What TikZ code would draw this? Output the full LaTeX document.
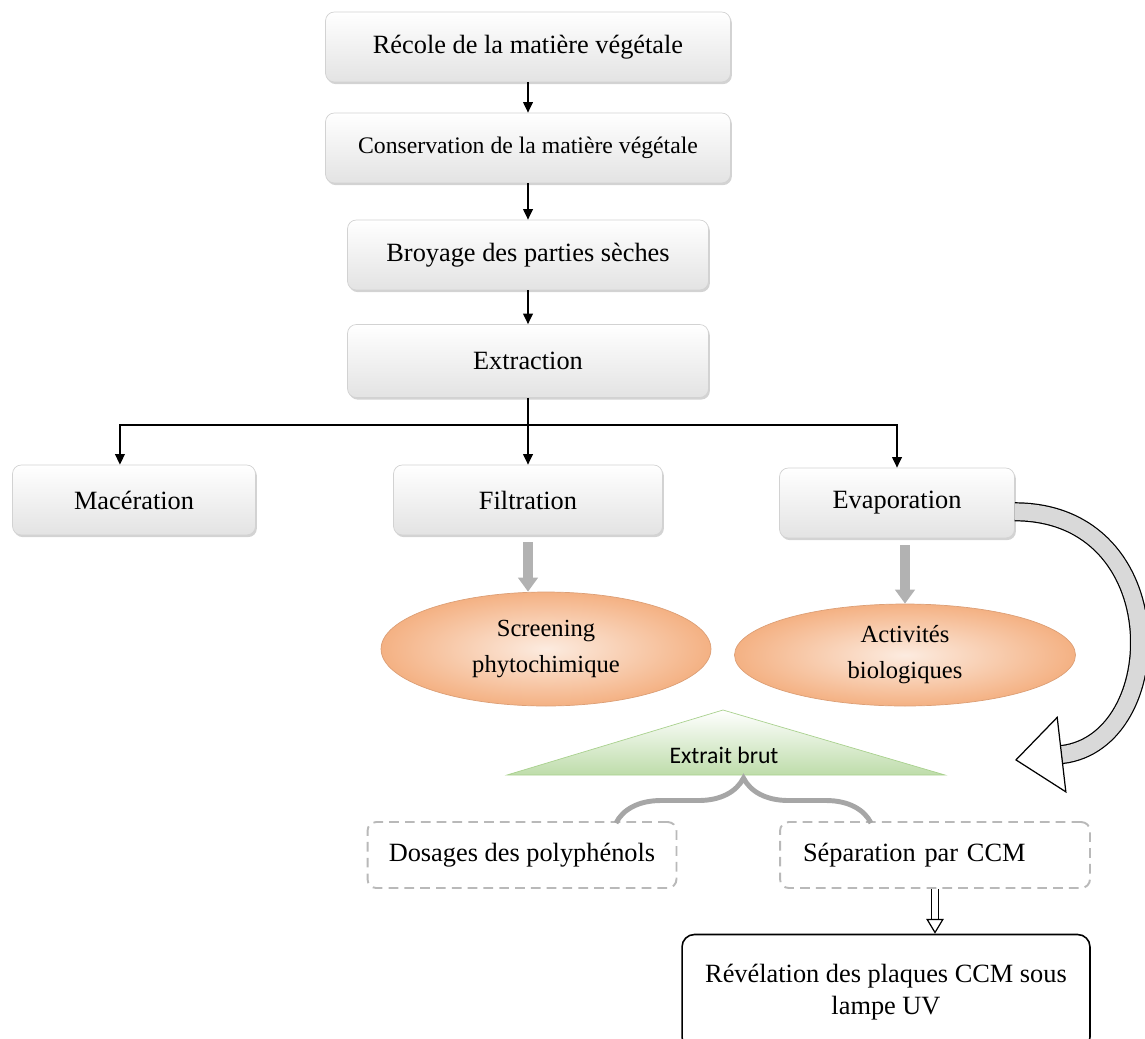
\documentclass[tikz,border=0pt]{standalone}
\usepackage{fontspec}
\setmainfont{Liberation Serif}
\newfontfamily\calibri{Carlito}
\usetikzlibrary{
    arrows.meta,
    shapes,
    shadows,
    decorations.pathreplacing,
    calc,
    positioning
}
\definecolor{peach}{RGB}{244,177,131}
\definecolor{leaf}{RGB}{169,209,142}
\definecolor{grisbrace}{RGB}{166,166,166}
\tikzset{
    etape/.style={rectangle, rounded corners=5pt, draw=gray!35, top color=white, bottom color=gray!22,
        drop shadow={shadow xshift=0.8pt, shadow yshift=-1.2pt, opacity=0.35},
        font=\fontsize{15}{18}\selectfont, align=center, minimum height=1.4cm},
    bulle/.style={ellipse, draw=peach!90!black, inner color=peach!25, outer color=peach, inner sep=0pt,
        font=\fontsize{14}{20.5}\selectfont, align=center},
    pointille/.style={rectangle, rounded corners=5pt, draw=gray!55, dash pattern=on 5.5pt off 3.5pt,
        line width=1.1pt, font=\fontsize{15}{18}\selectfont, minimum height=1.32cm},
    cadre/.style={rectangle, rounded corners=7pt, draw, line width=0.9pt, fill=white,
        font=\fontsize{15}{18}\selectfont, align=center},
    fleche/.style={-{Triangle[width=5.5pt,length=6pt]}, line width=0.9pt},
    grisfleche/.style={-{Triangle[width=11pt,length=8pt]}, line width=5.5pt, draw=gray!60, shorten <=4pt},
    creuse/.style={double, double distance=3pt, line width=0.7pt,
        -{Triangle[open, fill=white, line width=0.7pt, width=10pt, length=8.5pt]}},
    grandefleche/.style={double=gray!30, double distance=9.5pt, line width=0.7pt,
        -{Triangle[open, fill=white, line width=0.7pt, width=44pt, length=27pt]}}
}

\begin{document}
\begin{tikzpicture}[x=0.02cm, y=-0.02cm]
    \useasboundingbox (0,0) rectangle (1145,1038);

    \node[etape, minimum width=8.1cm] (rec) at (528,47) {Récole de la matière végétale};
    \node[etape, minimum width=8.1cm, font=\fontsize{13.5}{16}\selectfont] (cons) at (528,148) {Conservation de la matière végétale};
    \node[etape, minimum width=7.22cm] (broy) at (528,255) {Broyage des parties sèches};
    \node[etape, minimum width=7.22cm, minimum height=1.46cm] (extr) at (528,361) {Extraction};
    \node[etape, minimum width=4.86cm] (mac) at (134,500) {Macération};
    \node[etape, minimum width=5.38cm] (filt) at (528,500) {Filtration};
    \node[etape, minimum width=4.7cm] (evap) at (897,503) {Evaporation};

    \node[bulle, minimum width=6.6cm, minimum height=2.28cm] (scr) at (546,649) {Screening\\phytochimique};
    \node[bulle, minimum width=6.82cm, minimum height=2.04cm] (act) at (905,655) {Activités\\biologiques};

    \draw[draw=leaf, top color=white, bottom color=leaf!75] (723,710) -- (945,775) -- (507,775) -- cycle;
    \node[font=\calibri\fontsize{13.5}{16}\selectfont] (brut) at (724,755) {Extrait brut};

    \node[pointille, minimum width=6.18cm] (dos) at (522,855) {Dosages des polyphénols};
    \node[pointille, minimum width=6.2cm, text width=5.28cm, inner xsep=0.46cm, align=left] (sep) at (935,855) {Séparation par CCM};
    \node[cadre, minimum width=8.16cm, minimum height=2.3cm] (rev) at (886,992) {Révélation des plaques CCM sous\\lampe UV};

    \coordinate (split) at (528,425);
    \coordinate (bl) at (616,823);
    \coordinate (br) at (871,823);
    \coordinate (retour) at (1015,760);

    \draw
    (rec) edge[fleche] (cons)
    (cons) edge[fleche] (broy)
    (broy) edge[fleche] (extr);
    \draw[line width=0.9pt] (extr.south) -- (split);
    \draw[fleche] (split) -| ([xshift=-8pt]mac.north);
    \draw[fleche] (split) -| (evap.north);
    \draw[fleche] (split) -- (filt.north);

    \draw[grisfleche] (filt.south) -- (filt.south |- scr.north);
    \draw[grisfleche] (act.north |- evap.south) -- (act.north);

    \draw[grisbrace, line width=2.8pt, decorate, decoration={brace, amplitude=0.9cm}] (bl) -- (br);

    \draw[creuse] (sep.south) -- (sep.south |- rev.north);
    \draw[grandefleche] ([yshift=-5pt]evap.east) .. controls (1175,512) and (1170,742) .. (retour);
\end{tikzpicture}
\end{document}
